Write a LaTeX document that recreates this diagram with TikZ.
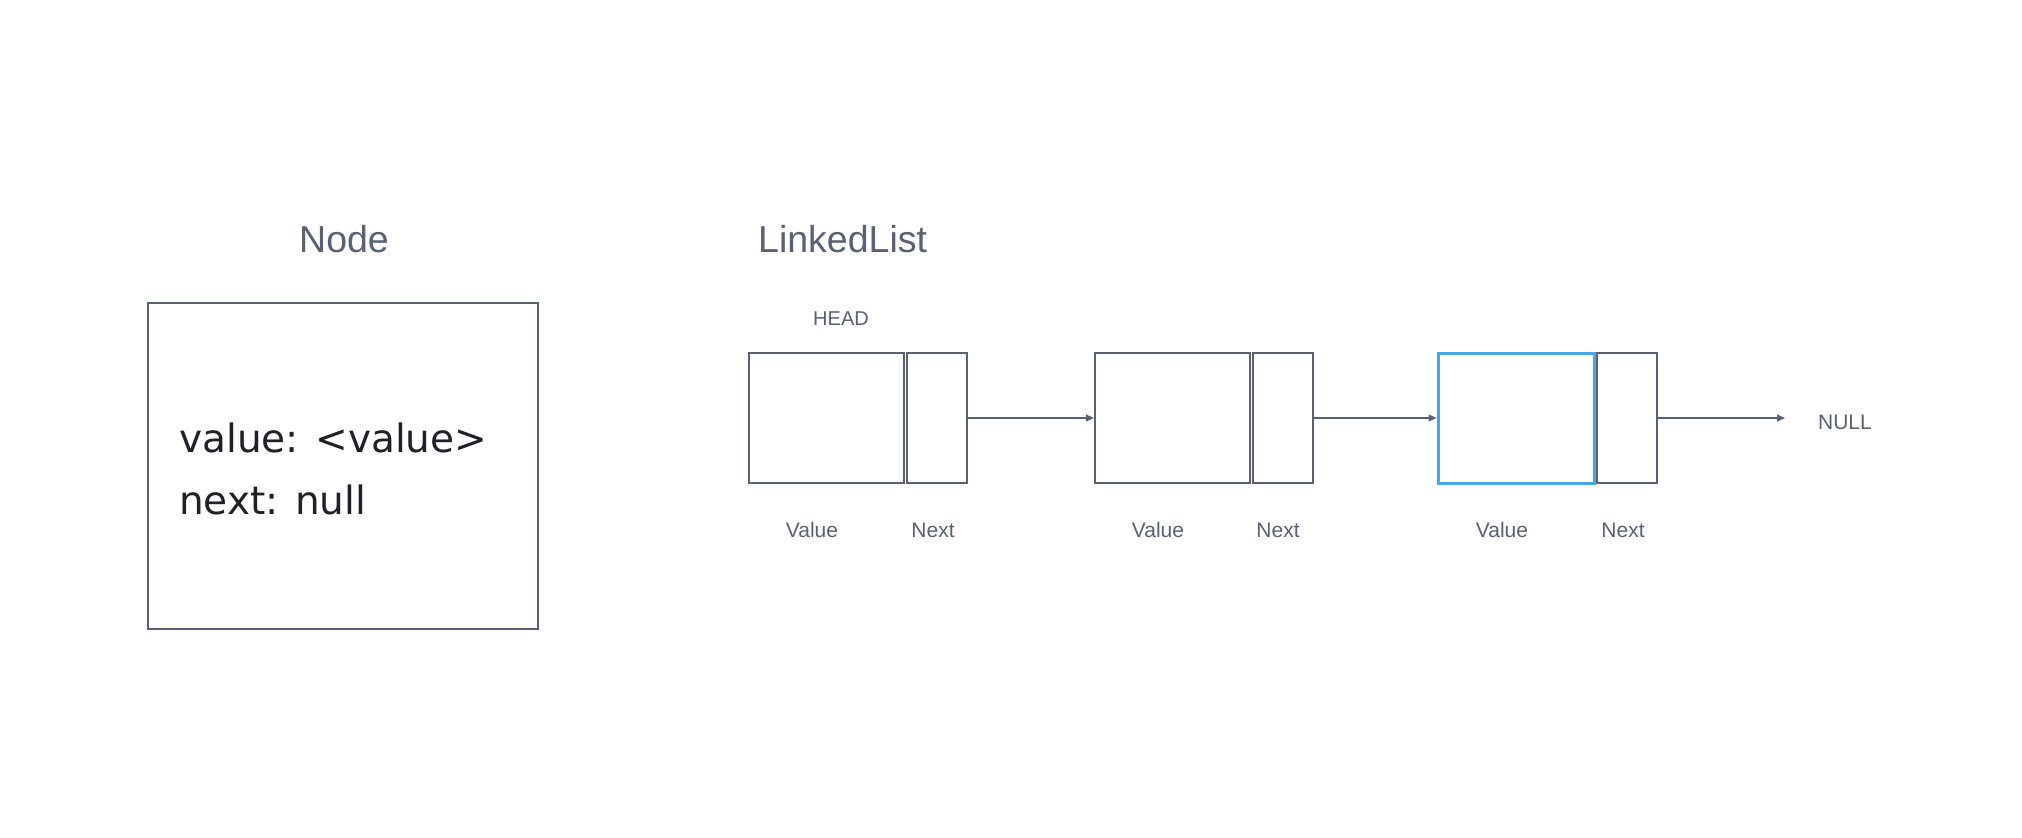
\documentclass[tikz,border=0pt]{standalone}
\usepackage{fontspec}
\setmainfont{Liberation Sans}
\newfontfamily\bodyfont{DejaVu Sans}
\usetikzlibrary{arrows.meta}
\definecolor{slate}{HTML}{5A6174}
\definecolor{ink}{HTML}{1F2128}
\definecolor{sky}{HTML}{47A6EC}
\begin{document}
\begin{tikzpicture}[x=1pt,y=-1pt,
  cell/.style={draw=slate,line width=2.2pt,inner sep=0pt,minimum height=130pt},
  bluecell/.style={cell,draw=sky,line width=3pt},
  lbl/.style={text=slate,font=\fontsize{21pt}{21pt}\selectfont,inner sep=0pt,anchor=base},
  title/.style={text=slate,font=\fontsize{37.5pt}{37.5pt}\selectfont,inner sep=0pt},
  body/.style={text=ink,font=\bodyfont\fontsize{39pt}{39pt}\selectfont,inner sep=0pt,anchor=base west},
  link/.style={draw=slate,line width=1.2pt,-{Triangle[length=8pt,width=7pt]}}]
\useasboundingbox (0,0) rectangle (2022,838);
\fill[white] (0,0) rectangle (2022,838);

% Node panel
\node[title,anchor=base] (nodetitle) at (344,252) {Node};
\node[cell,minimum width=390pt,minimum height=326pt] (nodebox) at (343,466) {};
\node[body] (valtxt) at (179,452) {value: <value>};
\node[body] (nexttxt) at (179,514) {next: null};

% LinkedList panel
\node[title,anchor=base west] (lltitle) at (758,252) {LinkedList};
\node[lbl,font=\fontsize{20pt}{20pt}\selectfont] (head) at (841,325) {HEAD};

\node[cell,minimum width=155pt] (v1) at (826.5,418) {};
\node[cell,minimum width=60pt] (n1) at (937,418) {};
\node[cell,minimum width=155pt] (v2) at (1172.5,418) {};
\node[cell,minimum width=60pt] (n2) at (1283,418) {};
\node[bluecell,minimum width=156pt] (v3) at (1516,418) {};
\node[cell,minimum width=60pt] (n3) at (1627,418) {};

\coordinate (nullpt) at (1785,418);
\node[lbl] (nulltxt) at (1845,429) {NULL};

\draw[link] (n1.east) -- (v2.west);
\draw[link] (n2.east) -- (v3.west);
\draw[link] (n3.east) -- (nullpt);

\node[lbl] (vl1) at (812,537) {Value};
\node[lbl] (nl1) at (933,537) {Next};
\node[lbl] (vl2) at (1158,537) {Value};
\node[lbl] (nl2) at (1278,537) {Next};
\node[lbl] (vl3) at (1502,537) {Value};
\node[lbl] (nl3) at (1623,537) {Next};
\end{tikzpicture}
\end{document}
